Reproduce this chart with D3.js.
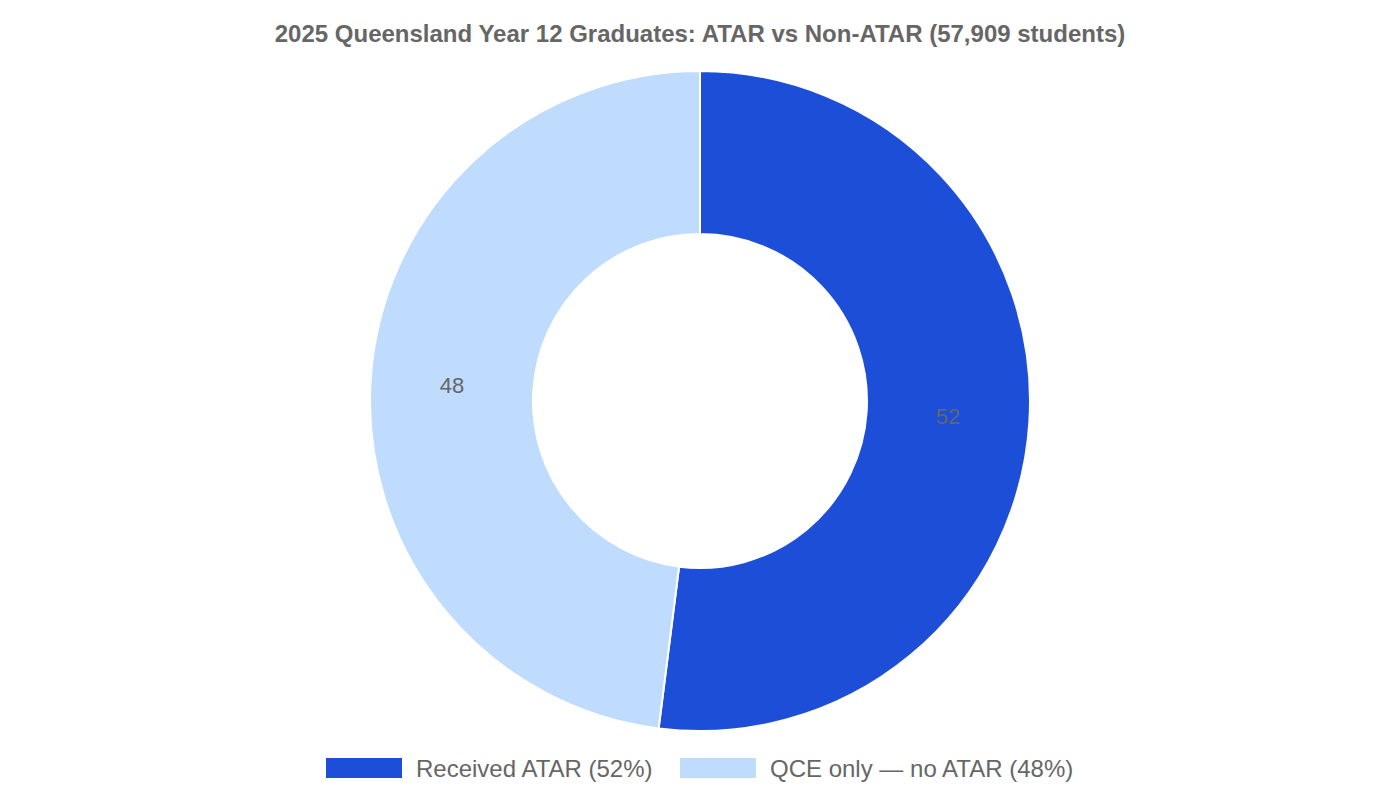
<!DOCTYPE html>
<html><head><meta charset="utf-8">
<script src="https://cdn.jsdelivr.net/npm/d3@7"></script>
<style>body{margin:0;background:#fff}svg{font-family:"Liberation Sans",Arial,sans-serif}</style>
</head><body><svg id="c" width="1400" height="800"></svg>
<script>
const categories = ["Received ATAR (52%)", "QCE only — no ATAR (48%)"];
const values = [52, 48];
const colors = ["#1d4ed8", "#bfdbfe"];
const title = "2025 Queensland Year 12 Graduates: ATAR vs Non-ATAR (57,909 students)";

const svg = d3.select("#c");
const cx = 700, cy = 401, R = 330, r = 167;
svg.append("text").attr("x", 700).attr("y", 42).attr("text-anchor", "middle")
  .attr("font-size", 24).attr("font-weight", "bold").attr("fill", "#666").text(title);

const pie = d3.pie().sort(null).value(d => d)(values);
const arc = d3.arc().innerRadius(r).outerRadius(R);
const labelArc = d3.arc().innerRadius((r + R) / 2).outerRadius((r + R) / 2);
const g = svg.append("g").attr("transform", `translate(${cx},${cy})`);
g.selectAll("path").data(pie).join("path").attr("d", arc)
  .attr("fill", (d, i) => colors[i]).attr("stroke", "#fff").attr("stroke-width", 2);
g.selectAll("text").data(pie).join("text")
  .attr("transform", d => `translate(${labelArc.centroid(d)})`)
  .attr("text-anchor", "middle").attr("dy", "0.35em").attr("font-size", 22).attr("fill", "#666")
  .text(d => d.data);

const leg = svg.append("g");
const xs = [326, 680];
categories.forEach((c, i) => {
  leg.append("rect").attr("x", xs[i]).attr("y", 758).attr("width", 76).attr("height", 20).attr("fill", colors[i]);
  leg.append("text").attr("x", xs[i] + 90).attr("y", 777).attr("font-size", 24).attr("fill", "#666").text(c);
});
</script></body></html>
